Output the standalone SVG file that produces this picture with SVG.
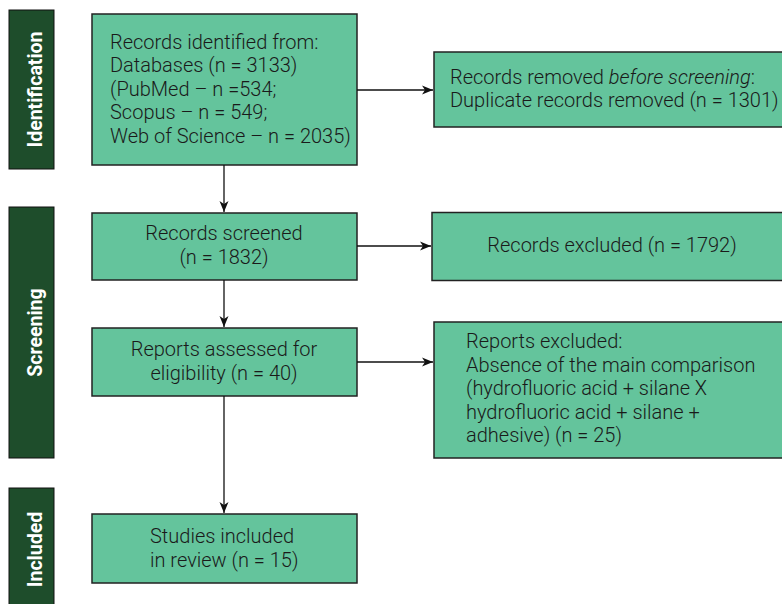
<svg xmlns="http://www.w3.org/2000/svg" width="782" height="604" viewBox="0 0 782 604">
<style>
.box{fill:#64c49c;stroke:#222;stroke-width:1.5}
.bar{fill:#1e4d2b;stroke:#111;stroke-width:1}
.t{font-family:Roboto,"Liberation Sans",sans-serif;font-size:20px;font-weight:300;fill:#1a1a1a}
.c{text-anchor:middle}
.side{font-family:Roboto,"Liberation Sans",sans-serif;font-size:19.5px;font-weight:bold;fill:#fff;text-anchor:middle}
.ln{stroke:#111;stroke-width:1.3;fill:none}
</style>
<defs>
<marker id="ah" markerWidth="12" markerHeight="10" refX="11" refY="5" orient="auto" markerUnits="userSpaceOnUse">
<path d="M0,0.5 L11,5 L0,9.5 L3,5 Z" fill="#111"/>
</marker>
</defs>
<rect width="782" height="604" fill="#fff"/>
<g id="phase-identification">
<rect class="bar" x="9" y="10" width="45" height="159"/>
<text class="side" transform="translate(41.5,89.5) rotate(-90)">Identification</text>
</g>
<g id="phase-screening">
<rect class="bar" x="9" y="207" width="45" height="251"/>
<text class="side" transform="translate(41.5,332.5) rotate(-90)">Screening</text>
</g>
<g id="phase-included">
<rect class="bar" x="9" y="488" width="45" height="130"/>
<text class="side" transform="translate(41.5,549.5) rotate(-90)">Included</text>
</g>
<g id="identified">
<rect class="box" x="92" y="14" width="265" height="151"/>
<text class="t" x="110" y="48.5">Records identified from:</text>
<text class="t" x="110" y="72">Databases (n = 3133)</text>
<text class="t" x="110" y="95.5">(PubMed – n =534;</text>
<text class="t" x="110" y="119">Scopus – n = 549;</text>
<text class="t" x="110" y="142.5">Web of Science – n = 2035)</text>
</g>
<g id="removed">
<rect class="box" x="434" y="52" width="352" height="75"/>
<text class="t" x="450" y="83.5">Records removed <tspan font-style="italic">before screening</tspan>:</text>
<text class="t" x="450" y="107">Duplicate records removed (n = 1301)</text>
</g>
<g id="screened">
<rect class="box" x="92" y="213" width="265" height="67"/>
<text class="t c" x="224" y="240">Records screened</text>
<text class="t c" x="224" y="263.5">(n = 1832)</text>
</g>
<g id="excluded">
<rect class="box" x="432" y="212.5" width="354" height="68"/>
<text class="t c" x="612" y="252">Records excluded (n = 1792)</text>
</g>
<g id="assessed">
<rect class="box" x="92" y="328" width="265" height="68"/>
<text class="t c" x="224" y="356">Reports assessed for</text>
<text class="t c" x="224" y="380">eligibility (n = 40)</text>
</g>
<g id="reports-excluded">
<rect class="box" x="434" y="322" width="352" height="136"/>
<text class="t" x="466" y="348">Reports excluded:</text>
<text class="t" x="466" y="371.5">Absence of the main comparison</text>
<text class="t" x="466" y="395">(hydrofluoric acid + silane X</text>
<text class="t" x="466" y="418.5">hydrofluoric acid + silane +</text>
<text class="t" x="466" y="442">adhesive) (n = 25)</text>
</g>
<g id="included">
<rect class="box" x="92" y="514" width="265" height="69"/>
<text class="t" x="150" y="543">Studies included</text>
<text class="t" x="150" y="567">in review (n = 15)</text>
</g>
<g id="connectors">
<line class="ln" x1="224" y1="165" x2="224" y2="212" marker-end="url(#ah)"/>
<line class="ln" x1="224" y1="280" x2="224" y2="327" marker-end="url(#ah)"/>
<line class="ln" x1="224" y1="396" x2="224" y2="513" marker-end="url(#ah)"/>
<line class="ln" x1="357" y1="90" x2="433" y2="90" marker-end="url(#ah)"/>
<line class="ln" x1="357" y1="246" x2="431" y2="246" marker-end="url(#ah)"/>
<line class="ln" x1="357" y1="362" x2="433" y2="362" marker-end="url(#ah)"/>
</g>
</svg>
